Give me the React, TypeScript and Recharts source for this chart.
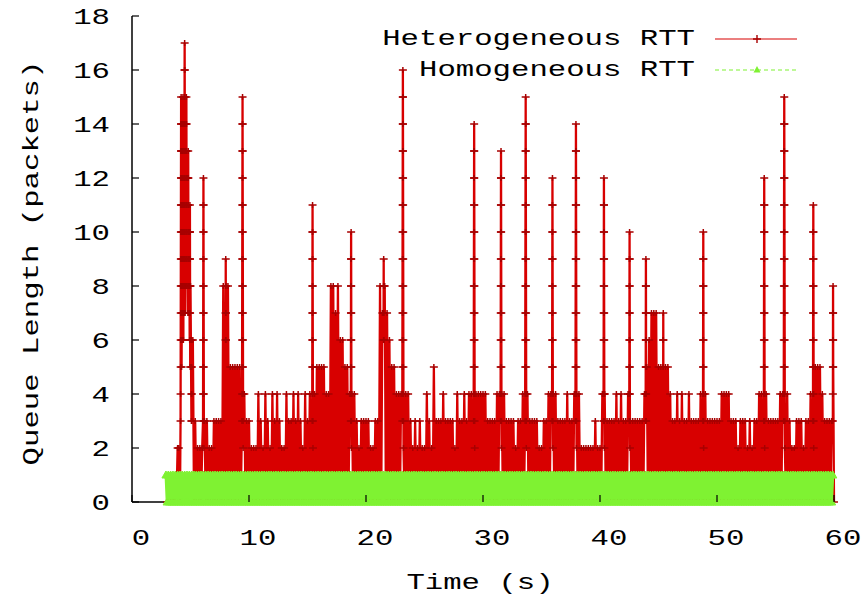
import React from "react";
import { ComposedChart, Line, XAxis, YAxis, Legend } from "recharts";

const xTicks = [0, 10, 20, 30, 40, 50, 60];
const yTicks = [0, 2, 4, 6, 8, 10, 12, 14, 16, 18];

// Heterogeneous RTT queue: one string per second from t = 3 s, one sample every 0.1 s
// (chars are packets: 0-9, then a = 10 ... h = 17)
const heteroStart = 3;
const heteroBase = [
  "0000000002", "20cdeedcba", "8060302020", "2030302020", "3030303080",
  "8080505050", "5050404030", "3020202040", "3020403020", "4030403020",
  "2040303040", "3040302040", "3040404050", "5050504040", "8080708060",
  "6050504040", "4030203030", "3030202030", "3080708070", "6050504040",
  "4040404030", "2030203020", "2040302050", "3030304030", "3030302040",
  "3030403040", "4040404040", "4040303030", "3040404040", "3030303020",
  "3030404040", "3030303020", "2030304040", "4040303030", "3040303040",
  "4040202020", "2020203020", "2040403030", "3030403040", "3030403030",
  "3030303040", "5060707070", "5050505050", "4030304030", "4030304030",
  "3030304040", "4030303030", "3030404040", "4030303020", "3030302030",
  "2030304040", "4040303030", "3030404040", "4030202030", "3030203030",
  "4040505050", "4030303030", "0",
];

// the tall bursts, read at a finer step (4 ms per char)
const burstTimes = [
  4.15, 4.32, 4.46, 4.62, 4.78, 4.93, 5.08, 6.07, 8.0, 9.4, 15.4, 18.7, 21.5,
  23.1, 29.2, 31.5, 33.6, 35.9, 37.9, 40.3, 42.5, 43.9, 45.4, 48.8, 54.0,
  55.7, 58.2, 59.9,
];
const burstShapes = [
  "3456789abcdefedcba98765",
  "6789abcdefedcba9876",
  "789abcdefghgfedcba987",
  "89abcdefedcba98",
  "789abcdcba987",
  "6789aba98765",
  "3456543",
  "3456789abcba98765432",
  "6789876",
  "3456789abcdefedcba98765432",
  "3456789aba98765432",
  "3456789a98765432",
  "6789876",
  "3456789abcdefgfedcba98765432",
  "3456789abcdedcba98765432",
  "3456789abcdcba98765432",
  "3456789abcdefedcba98765432",
  "3456789abcba98765432",
  "3456789abcdedcba98765432",
  "3456789abcba98765432",
  "3456789a98765432",
  "3456789876543",
  "56765",
  "3456789a98765432",
  "3456789abcba98765432",
  "3456789abcdefedcba98765432",
  "3456789aba98765432",
  "345678765",
];

// Homogeneous RTT queue: from t = 2.9 s, one sample every 0.1 s
const homoStart = 2.9;
const homoBase = [
  "1010101010", "1010101010", "1010101010", "1010101010", "1010101010",
  "1010101010", "1010101010", "1010101010", "1010101010", "1010101010",
  "1010101010", "1010101010", "1010101010", "1010101010", "1010101010",
  "1010101010", "1010101010", "1010101010", "1010101010", "1010101010",
  "1010101010", "1010101010", "1010101010", "1010101010", "1010101010",
  "1010101010", "1010101010", "1010101010", "1010101010", "1010101010",
  "1010101010", "1010101010", "1010101010", "1010101010", "1010101010",
  "1010101010", "1010101010", "1010101010", "1010101010", "1010101010",
  "1010101010", "1010101010", "1010101010", "1010101010", "1010101010",
  "1010101010", "1010101010", "1010101010", "1010101010", "1010101010",
  "1010101010", "1010101010", "1010101010", "1010101010", "1010101010",
  "1010101010", "1010101010", "1",
];

const RED = "#d80000";
const RED_MARK = "#a80000";
const GREEN = "#7ff232";
const FONT = "'Liberation Mono', 'DejaVu Sans Mono', monospace";
const CHAR_W = 18.4;
const BURST_STEP = 0.004;

const lvl = (c: string) => parseInt(c, 36);

function readRows(start: number, rows: string[]) {
  const out: { t: number; q: number }[] = [];
  rows.forEach((row, i) => {
    for (let k = 0; k < row.length; k++) {
      out.push({ t: +(start + i + k * 0.1).toFixed(3), q: lvl(row[k]) });
    }
  });
  return out;
}

function buildHetero() {
  const bursts = burstTimes.map((t0, i) => ({
    t0,
    t1: t0 + (burstShapes[i].length - 1) * BURST_STEP,
    s: burstShapes[i],
  }));
  const pts = readRows(heteroStart, heteroBase).filter(
    (p) => !bursts.some((b) => p.t >= b.t0 - 0.002 && p.t <= b.t1 + 0.002)
  );
  bursts.forEach((b) => {
    for (let k = 0; k < b.s.length; k++) {
      pts.push({ t: +(b.t0 + k * BURST_STEP).toFixed(4), q: lvl(b.s[k]) });
    }
  });
  return pts.sort((a, b) => a.t - b.t);
}

const heteroData = buildHetero();
const homoData = readRows(homoStart, homoBase);

const txt = (s: string) => ({
  fontFamily: FONT,
  fontSize: 22,
  fill: "#000",
  textLength: s.length * CHAR_W,
  lengthAdjust: "spacingAndGlyphs" as const,
});

const BottomTick = (p: any) => {
  const s = String(p.payload.value);
  return (
    <g>
      <line x1={p.x} y1={p.y} x2={p.x} y2={p.y - 7} stroke="#000" strokeWidth={1.2} />
      <text x={p.x + 9} y={p.y + 43} textAnchor="middle" {...txt(s)}>{s}</text>
    </g>
  );
};
const TopTick = (p: any) => (
  <line x1={p.x} y1={p.y} x2={p.x} y2={p.y + 7} stroke="#000" strokeWidth={1.2} />
);
const LeftTick = (p: any) => {
  const s = String(p.payload.value);
  return (
    <g>
      <line x1={p.x} y1={p.y} x2={p.x + 7} y2={p.y} stroke="#000" strokeWidth={1.2} />
      <text x={p.x - 22} y={p.y + 8} textAnchor="end" {...txt(s)}>{s}</text>
    </g>
  );
};
const RightTick = (p: any) => (
  <line x1={p.x} y1={p.y} x2={p.x - 7} y2={p.y} stroke="#000" strokeWidth={1.2} />
);

const XTitle = () => (
  <text x={480} y={589} textAnchor="middle" {...txt("Time (s)")}>Time (s)</text>
);
const YTitle = () => (
  <text x={0} y={0} transform="translate(38,263) rotate(-90)" textAnchor="middle"
        {...txt("Queue Length (packets)")}>
    Queue Length (packets)
  </text>
);

const plusDot = (p: any) => {
  const { cx, cy, index } = p;
  if (cx == null || cy == null) return <g key={`h${index}`} />;
  return (
    <path key={`h${index}`} d={`M${cx - 4},${cy}H${cx + 4}M${cx},${cy - 3}V${cy + 3}`}
          stroke={RED_MARK} strokeWidth={1.5} fill="none" />
  );
};
const triDot = (p: any) => {
  const { cx, cy, index } = p;
  if (cx == null || cy == null) return <g key={`g${index}`} />;
  return (
    <path key={`g${index}`} d={`M${cx},${cy - 4}L${cx + 4},${cy + 3}L${cx - 4},${cy + 3}Z`}
          fill={GREEN} stroke={GREEN} strokeWidth={1} />
  );
};

function KeyBox() {
  return (
    <svg width={863} height={90} style={{ display: "block" }}>
      <text x={695} y={45} textAnchor="end" {...txt("Heterogeneous RTT")}>Heterogeneous RTT</text>
      <line x1={715} y1={39} x2={797} y2={39} stroke={RED} strokeWidth={1.2} />
      <path d="M753,39H761M757,35V43" stroke={RED_MARK} strokeWidth={1.4} />
      <text x={695} y={76} textAnchor="end" {...txt("Homogeneous RTT")}>Homogeneous RTT</text>
      <line x1={715} y1={70} x2={797} y2={70} stroke={GREEN} strokeWidth={1.2} strokeDasharray="4 3" />
      <path d="M757,66L760.5,72.5L753.5,72.5Z" fill={GREEN} />
    </svg>
  );
}

const frame = { stroke: "#000", strokeWidth: 1.5 };

export default function App() {
  return (
    <div style={{ position: "fixed", left: 0, top: 0, width: 863, height: 599, background: "#fff" }}>
      <ComposedChart width={863} height={599} margin={{ top: 16, right: 29, bottom: 57, left: 72 }}>
        <XAxis type="number" dataKey="t" domain={[0, 60]} ticks={xTicks} interval={0}
               height={40} tickSize={0} tickMargin={0} tickLine={false} axisLine={frame}
               tick={<BottomTick />} label={<XTitle />} />
        <XAxis xAxisId="top" orientation="top" type="number" dataKey="t" domain={[0, 60]}
               ticks={xTicks} interval={0} height={0} tickSize={0} tickMargin={0}
               tickLine={false} axisLine={frame} tick={<TopTick />} />
        <YAxis type="number" domain={[0, 18]} ticks={yTicks} interval={0} width={60}
               tickSize={0} tickMargin={0} tickLine={false} axisLine={frame}
               tick={<LeftTick />} label={<YTitle />} />
        <YAxis yAxisId="right" orientation="right" type="number" domain={[0, 18]} ticks={yTicks}
               interval={0} width={0} tickSize={0} tickMargin={0} tickLine={false}
               axisLine={frame} tick={<RightTick />} />
        <Line data={heteroData} dataKey="q" name="Heterogeneous RTT" type="linear" stroke={RED}
              strokeWidth={2.3} dot={plusDot} activeDot={false} isAnimationActive={false} />
        <Line data={homoData} dataKey="q" name="Homogeneous RTT" type="linear" stroke={GREEN}
              strokeWidth={2.8} dot={triDot} activeDot={false} isAnimationActive={false} />
        <Legend layout="horizontal" verticalAlign="middle" align="center"
                wrapperStyle={{ top: 0, left: 0, width: 863, pointerEvents: "none" }}
                content={() => <KeyBox />} />
      </ComposedChart>
    </div>
  );
}
